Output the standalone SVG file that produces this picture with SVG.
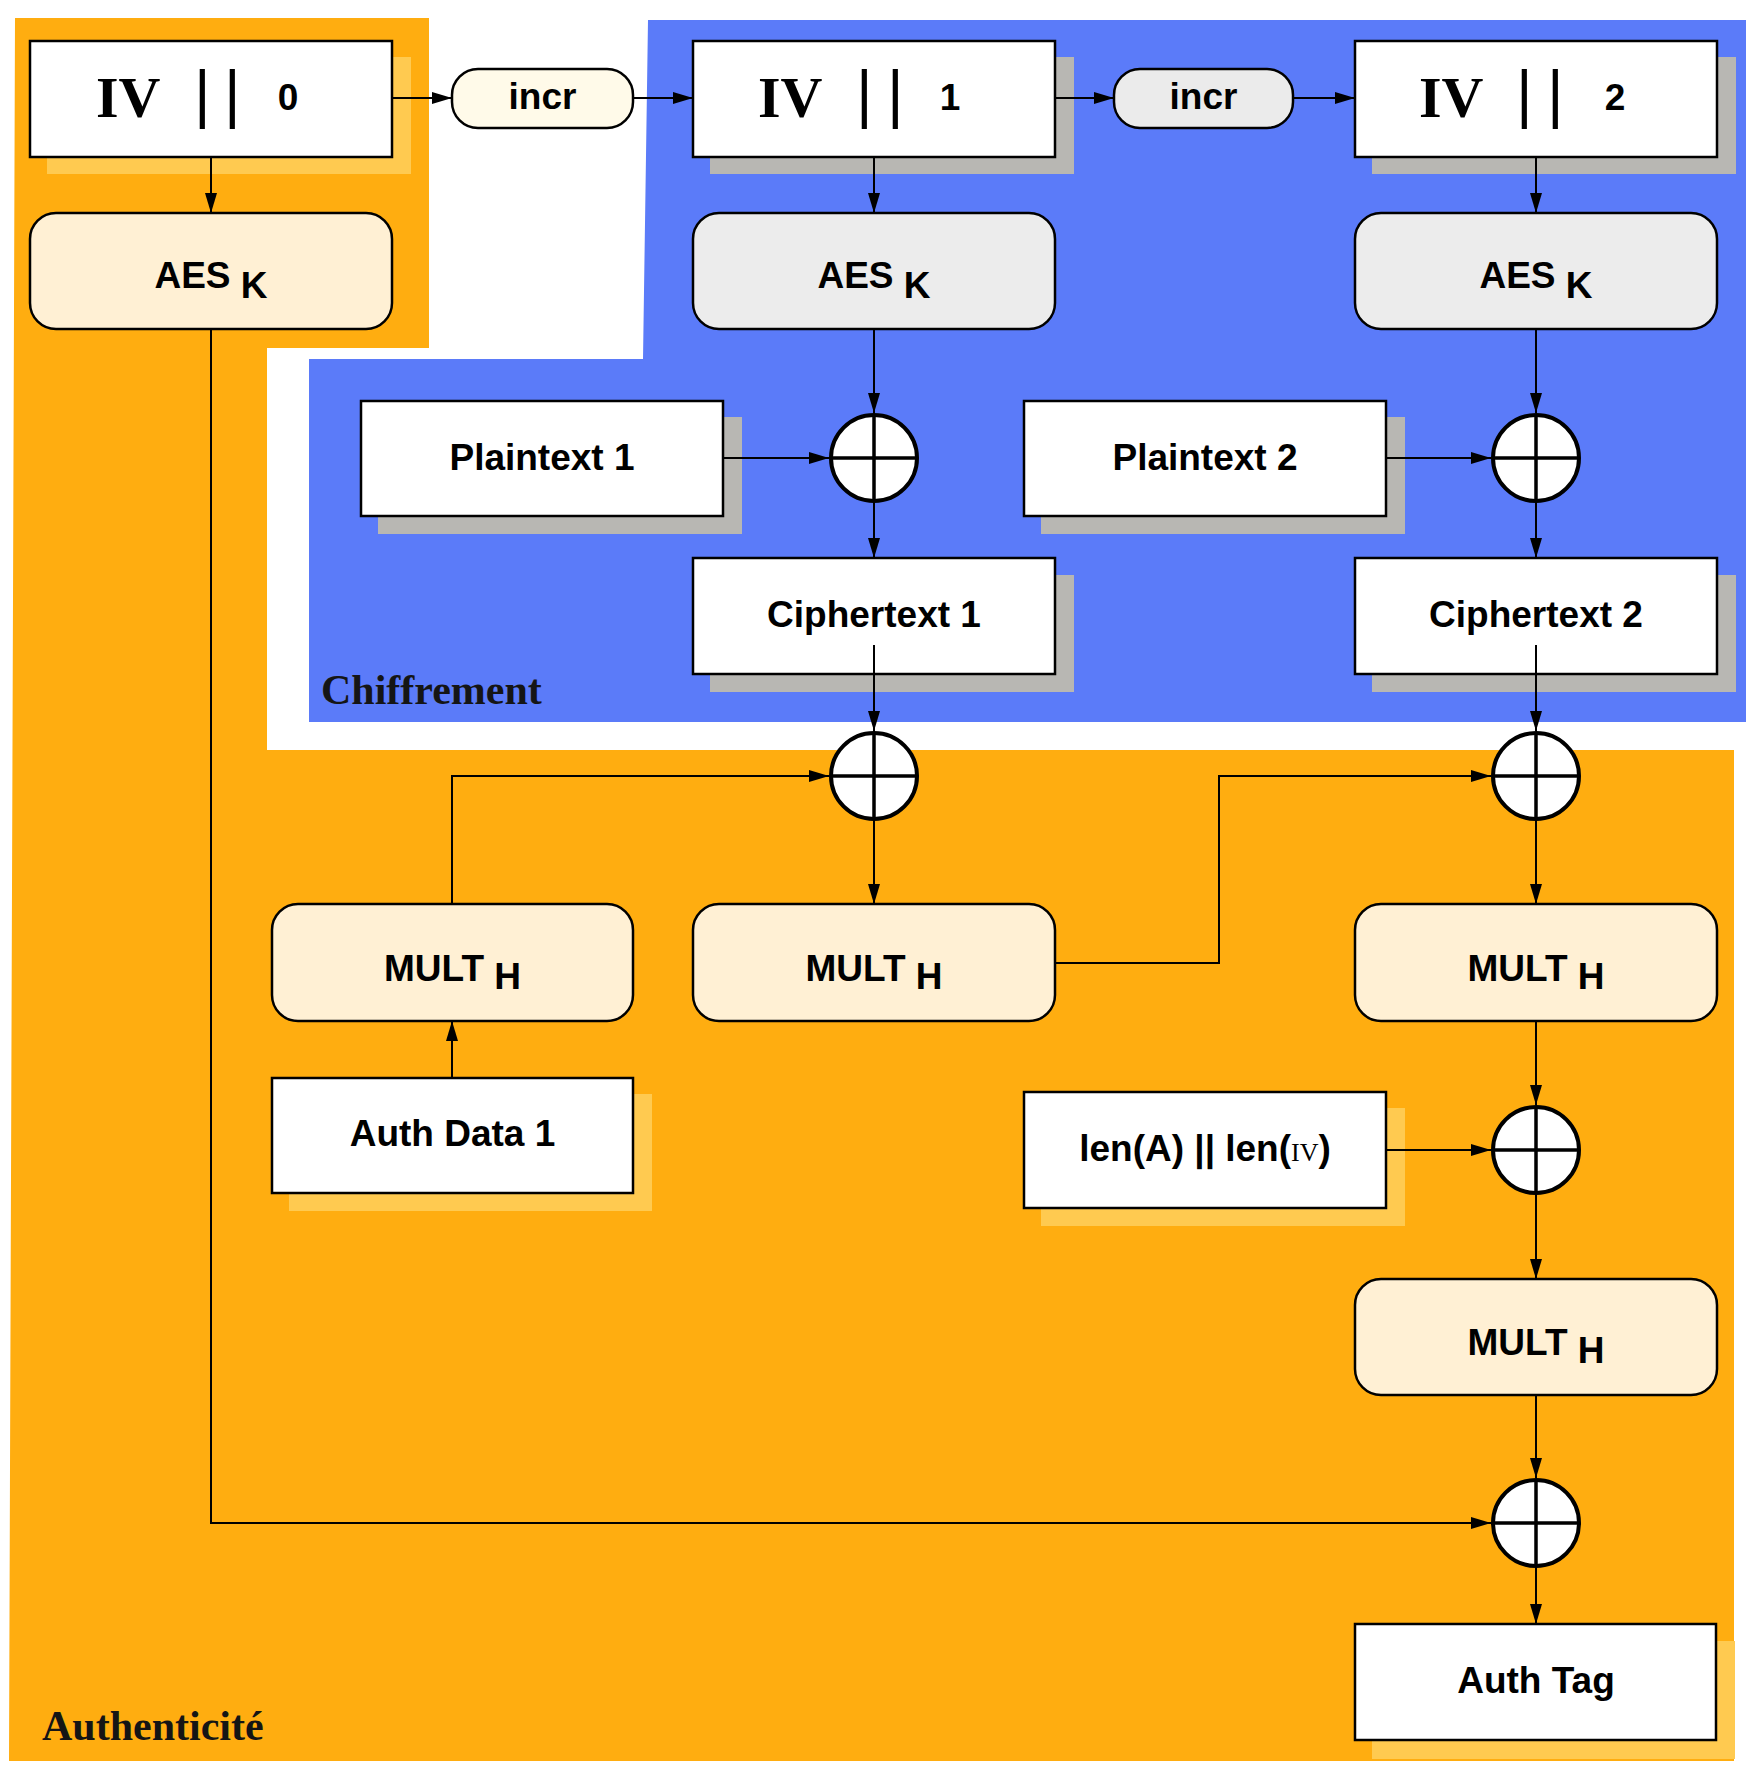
<svg xmlns="http://www.w3.org/2000/svg" width="1761" height="1784" viewBox="0 0 1761 1784">
<style>
.box{stroke:#000;stroke-width:2.5}
.w{fill:#fff}
.cream{fill:#FFF0D4}
.grey{fill:#ECECEC}
.shO{fill:#FFCA50}
.shG{fill:#B8B7B3}
.lbl{font-family:"Liberation Sans",Arial,sans-serif;font-weight:bold;font-size:37px;fill:#000;text-anchor:middle}
.iv{font-family:"Liberation Serif","Times New Roman",serif;font-weight:bold;font-size:58px;fill:#000}
.bar{font-family:"Liberation Sans",Arial,sans-serif;font-size:64px;fill:#000}
.dig{font-family:"Liberation Sans",Arial,sans-serif;font-weight:bold;font-size:37px;fill:#000;text-anchor:middle}
.area{font-family:"Liberation Serif","Times New Roman",serif;font-weight:bold;font-size:42px;fill:#151515}
.xc{fill:#fff;stroke:#000;stroke-width:4}
.xl{stroke:#000;stroke-width:3.5}
.conn{fill:none;stroke:#000;stroke-width:2;marker-end:url(#ah)}
</style>
<defs>
<marker id="ah" markerUnits="userSpaceOnUse" markerWidth="20" markerHeight="12" refX="20" refY="6" orient="auto">
<path d="M0,0 L20,6 L0,12 z" fill="#000"/>
</marker>
</defs>
<rect x="0" y="0" width="1761" height="1784" fill="#fff"/>
<g id="regions">
<polygon points="15,18 429,18 429,348 267,348 267,750 1734,750 1734,1761 9,1761" fill="#FFAD10"/>
<polygon points="648,20 1746,20 1746,722 309,722 309,359 643,359" fill="#5B7BF9"/>
<text class="area" x="321" y="704">Chiffrement</text>
<text class="area" x="42" y="1740">Authenticité</text>
</g>
<g id="iv0">
<rect class="shO" x="47" y="57" width="364" height="117"/>
<rect class="box w" x="30" y="41" width="362" height="116"/>
<text class="iv" x="96" y="117">IV</text>
<text class="bar" x="194 224" y="116">||</text>
<text class="dig" x="288" y="110">0</text>
</g>
<g id="incr1">
<rect class="box" fill="#FFFAE9" x="452" y="69" width="181" height="59" rx="26"/>
<text class="lbl" x="542.5" y="109">incr</text>
</g>
<g id="iv1">
<rect class="shG" x="710" y="57" width="364" height="117"/>
<rect class="box w" x="693" y="41" width="362" height="116"/>
<text class="iv" x="758" y="117">IV</text>
<text class="bar" x="856 887" y="116">||</text>
<text class="dig" x="950" y="110">1</text>
</g>
<g id="incr2">
<rect class="box" fill="#EBEBEB" x="1114" y="69" width="179" height="59" rx="26"/>
<text class="lbl" x="1203.5" y="109">incr</text>
</g>
<g id="iv2">
<rect class="shG" x="1372" y="57" width="364" height="117"/>
<rect class="box w" x="1355" y="41" width="362" height="116"/>
<text class="iv" x="1419" y="117">IV</text>
<text class="bar" x="1516 1547" y="116">||</text>
<text class="dig" x="1615" y="110">2</text>
</g>
<g id="aes0">
<rect class="box cream" x="30" y="213" width="362" height="116" rx="26"/>
<text class="lbl" x="211" y="288">AES<tspan dy="10"> K</tspan></text>
</g>
<g id="aes1">
<rect class="box grey" x="693" y="213" width="362" height="116" rx="26"/>
<text class="lbl" x="874" y="288">AES<tspan dy="10"> K</tspan></text>
</g>
<g id="aes2">
<rect class="box grey" x="1355" y="213" width="362" height="116" rx="26"/>
<text class="lbl" x="1536" y="288">AES<tspan dy="10"> K</tspan></text>
</g>
<g id="pt1">
<rect class="shG" x="378" y="417" width="364" height="117"/>
<rect class="box w" x="361" y="401" width="362" height="115"/>
<text class="lbl" x="542" y="470">Plaintext 1</text>
</g>
<g id="pt2">
<rect class="shG" x="1041" y="417" width="364" height="117"/>
<rect class="box w" x="1024" y="401" width="362" height="115"/>
<text class="lbl" x="1205" y="470">Plaintext 2</text>
</g>
<g id="xor1"><circle class="xc" cx="874" cy="458" r="43"/><path class="xl" d="M831,458 H917 M874,415 V501"/></g>
<g id="xor2"><circle class="xc" cx="1536" cy="458" r="43"/><path class="xl" d="M1493,458 H1579 M1536,415 V501"/></g>
<g id="ct1">
<rect class="shG" x="710" y="575" width="364" height="117"/>
<rect class="box w" x="693" y="558" width="362" height="116"/>
<text class="lbl" x="874" y="627">Ciphertext 1</text>
</g>
<g id="ct2">
<rect class="shG" x="1372" y="575" width="364" height="117"/>
<rect class="box w" x="1355" y="558" width="362" height="116"/>
<text class="lbl" x="1536" y="627">Ciphertext 2</text>
</g>
<g id="xor3"><circle class="xc" cx="874" cy="776" r="43"/><path class="xl" d="M831,776 H917 M874,733 V819"/></g>
<g id="xor4"><circle class="xc" cx="1536" cy="776" r="43"/><path class="xl" d="M1493,776 H1579 M1536,733 V819"/></g>
<g id="mult1">
<rect class="box cream" x="272" y="904" width="361" height="117" rx="26"/>
<text class="lbl" x="452.5" y="981">MULT<tspan dy="8"> H</tspan></text>
</g>
<g id="mult2">
<rect class="box cream" x="693" y="904" width="362" height="117" rx="26"/>
<text class="lbl" x="874" y="981">MULT<tspan dy="8"> H</tspan></text>
</g>
<g id="mult3">
<rect class="box cream" x="1355" y="904" width="362" height="117" rx="26"/>
<text class="lbl" x="1536" y="981">MULT<tspan dy="8"> H</tspan></text>
</g>
<g id="authdata1">
<rect class="shO" x="289" y="1094" width="363" height="117"/>
<rect class="box w" x="272" y="1078" width="361" height="115"/>
<text class="lbl" x="452.5" y="1146">Auth Data 1</text>
</g>
<g id="lenbox">
<rect class="shO" x="1041" y="1108" width="364" height="118"/>
<rect class="box w" x="1024" y="1092" width="362" height="116"/>
<text class="lbl" x="1205" y="1161">len(A) || len(<tspan font-family="Liberation Serif, Times New Roman, serif" font-weight="normal" font-size="26">IV</tspan>)</text>
</g>
<g id="xor5"><circle class="xc" cx="1536" cy="1150" r="43"/><path class="xl" d="M1493,1150 H1579 M1536,1107 V1193"/></g>
<g id="mult4">
<rect class="box cream" x="1355" y="1279" width="362" height="116" rx="26"/>
<text class="lbl" x="1536" y="1355">MULT<tspan dy="8"> H</tspan></text>
</g>
<g id="xor6"><circle class="xc" cx="1536" cy="1523" r="43"/><path class="xl" d="M1493,1523 H1579 M1536,1480 V1566"/></g>
<g id="authtag">
<rect class="shO" x="1372" y="1641" width="363" height="118"/>
<rect class="box w" x="1355" y="1624" width="361" height="116"/>
<text class="lbl" x="1536" y="1693">Auth Tag</text>
</g>
<g id="connectors">
<path class="conn" d="M392,98 H452"/>
<path class="conn" d="M633,98 H693"/>
<path class="conn" d="M1055,98 H1114"/>
<path class="conn" d="M1293,98 H1355"/>
<path class="conn" d="M211,157 V213"/>
<path class="conn" d="M874,157 V213"/>
<path class="conn" d="M1536,157 V213"/>
<path class="conn" d="M874,329 V413"/>
<path class="conn" d="M1536,329 V413"/>
<path class="conn" d="M723,458 H829"/>
<path class="conn" d="M1386,458 H1491"/>
<path class="conn" d="M874,503 V558"/>
<path class="conn" d="M1536,503 V558"/>
<path class="conn" d="M874,645 V731"/>
<path class="conn" d="M1536,645 V731"/>
<path class="conn" d="M452,904 V776 H829"/>
<path class="conn" d="M1055,963 H1219 V776 H1491"/>
<path class="conn" d="M874,821 V904"/>
<path class="conn" d="M1536,821 V904"/>
<path class="conn" d="M452,1078 V1021"/>
<path class="conn" d="M1536,1021 V1105"/>
<path class="conn" d="M1386,1150 H1491"/>
<path class="conn" d="M1536,1195 V1279"/>
<path class="conn" d="M1536,1395 V1478"/>
<path class="conn" d="M211,329 V1523 H1491"/>
<path class="conn" d="M1536,1568 V1624"/>
</g>
</svg>
